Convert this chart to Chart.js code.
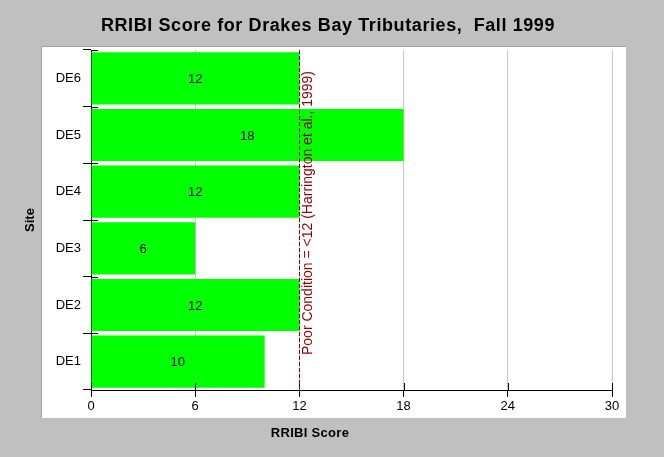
<!DOCTYPE html>
<html>
<head>
<meta charset="utf-8">
<script src="https://cdn.jsdelivr.net/npm/chart.js@4"></script>
<style>
  body { margin: 0; background: #c0c0c0; }
  canvas { display: block; }
</style>
</head>
<body>
<canvas id="chart" width="664" height="457"></canvas>
<script>
const sites = ["DE6", "DE5", "DE4", "DE3", "DE2", "DE1"];
const scores = [12, 18, 12, 6, 12, 10];
const xTicks = [0, 6, 12, 18, 24, 30];
const poorLimit = 12;
const poorLabel = "Poor Condition = <12 (Harrington et al., 1999)";
const chartTitle = "RRIBI Score for Drakes Bay Tributaries,  Fall 1999";
const xTitle = "RRIBI Score";

const FONT = "'Liberation Sans', Arial, sans-serif";

// gray page, white panel behind the plot, titles
const panelPlugin = {
  id: "panel",
  beforeDraw(chart) {
    const ctx = chart.ctx;
    ctx.save();
    ctx.fillStyle = "#c0c0c0";
    ctx.fillRect(0, 0, chart.width, chart.height);
    ctx.fillStyle = "#ffffff";
    ctx.fillRect(41, 46, 585, 372);
    ctx.strokeStyle = "#a0a0a0";
    ctx.lineWidth = 1;
    ctx.beginPath();
    ctx.moveTo(41.5, 418);
    ctx.lineTo(41.5, 46.5);
    ctx.lineTo(626, 46.5);
    ctx.stroke();

    ctx.fillStyle = "#000";
    ctx.textAlign = "center";
    ctx.textBaseline = "middle";
    ctx.font = "bold 18px " + FONT;
    ctx.letterSpacing = "0.6px";
    ctx.fillText(chartTitle, 328, 26);
    ctx.letterSpacing = "0.3px";
    ctx.font = "bold 13px " + FONT;
    ctx.fillText(xTitle, 310, 433);
    ctx.restore();
  }
};

// ticks that cross into the plot, bar labels, reference line
const extrasPlugin = {
  id: "extras",
  afterDatasetsDraw(chart) {
    const ctx = chart.ctx;
    const area = chart.chartArea;
    const x = chart.scales.x;
    const y = chart.scales.y;
    ctx.save();

    ctx.strokeStyle = "#000";
    ctx.lineWidth = 1;
    ctx.beginPath();
    xTicks.forEach((v) => {
      const px = Math.round(x.getPixelForValue(v)) + 0.5;
      ctx.moveTo(px, area.bottom - 7);
      ctx.lineTo(px, area.bottom);
    });
    const step = (area.bottom - area.top) / sites.length;
    for (let i = 0; i <= sites.length; i++) {
      const py = Math.round(area.top + i * step) + 0.5;
      ctx.moveTo(area.left, py);
      ctx.lineTo(area.left + 7, py);
    }
    ctx.stroke();

    ctx.fillStyle = "#000";
    ctx.font = "13px " + FONT;
    ctx.textAlign = "center";
    ctx.textBaseline = "middle";
    scores.forEach((v, i) => {
      const px = x.getPixelForValue(v / 2);
      const py = y.getPixelForValue(i);
      ctx.fillText(String(v), px, py + 1);
    });

    const lx = Math.round(x.getPixelForValue(poorLimit)) + 0.5;
    ctx.strokeStyle = "#8b0000";
    ctx.setLineDash([4, 2]);
    ctx.beginPath();
    ctx.moveTo(lx, area.top);
    ctx.lineTo(lx, area.bottom);
    ctx.stroke();
    ctx.setLineDash([]);

    ctx.translate(lx + 9, 213);
    ctx.rotate(-Math.PI / 2);
    ctx.fillStyle = "#8b0000";
    ctx.font = "14px " + FONT;
    ctx.fillText(poorLabel, 0, 0);
    ctx.restore();
  }
};

new Chart(document.getElementById("chart"), {
  type: "bar",
  data: {
    labels: sites,
    datasets: [{
      label: "RRIBI Score",
      data: scores,
      backgroundColor: "#00ff00",
      borderWidth: 0,
      barPercentage: 0.92,
      categoryPercentage: 1
    }]
  },
  options: {
    indexAxis: "y",
    responsive: false,
    animation: false,
    layout: { padding: { left: 0, right: 52, top: 50, bottom: 0 } },
    plugins: {
      legend: { display: false },
      tooltip: { enabled: false },
      title: { display: false }
    },
    scales: {
      x: {
        min: 0,
        max: 30,
        afterBuildTicks(scale) {
          scale.ticks = xTicks.map((v) => ({ value: v }));
        },
        afterFit(scale) { scale.height = 67; },
        grid: {
          color: "#c8c8c8",
          tickColor: "#000",
          tickLength: 7,
          drawOnChartArea: true
        },
        border: { display: true, color: "#000", width: 1 },
        ticks: { color: "#000", font: { family: FONT, size: 13 }, padding: 2 }
      },
      y: {
        afterFit(scale) { scale.width = 91; },
        grid: {
          offset: true,
          drawOnChartArea: false,
          tickColor: "#000",
          tickLength: 8
        },
        border: { display: true, color: "#000", width: 1 },
        ticks: { color: "#000", font: { family: FONT, size: 13 }, padding: 2 },
        title: {
          display: true,
          text: "Site",
          color: "#000",
          font: { family: FONT, size: 13, weight: "bold" },
          padding: 23
        }
      }
    }
  },
  plugins: [panelPlugin, extrasPlugin]
});
</script>
</body>
</html>
